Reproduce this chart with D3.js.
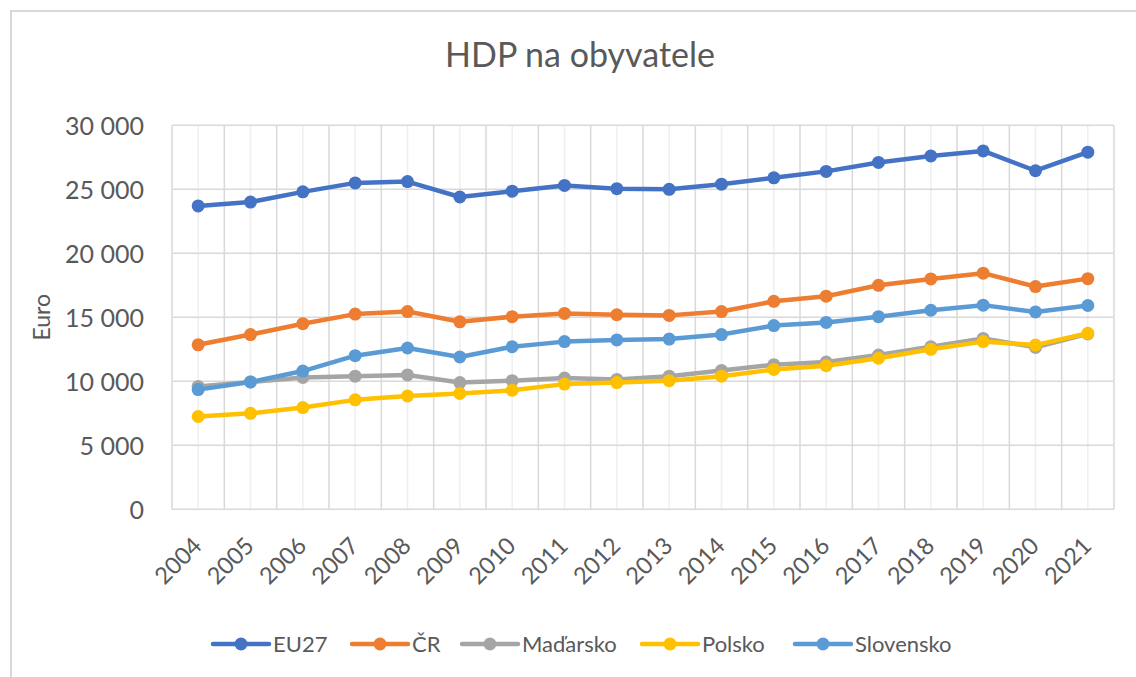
<!DOCTYPE html>
<html>
<head>
<meta charset="utf-8">
<script src="https://cdn.jsdelivr.net/npm/d3@7"></script>
<style>
  body { margin: 0; background: #fff; }
  text { font-family: Lato, "Open Sans", sans-serif; fill: #595959; }
</style>
</head>
<body>
<script>
const years = ["2004","2005","2006","2007","2008","2009","2010","2011","2012","2013","2014","2015","2016","2017","2018","2019","2020","2021"];
const eu27 = [23700,24000,24800,25500,25600,24400,24850,25300,25050,25000,25400,25900,26400,27100,27600,28000,26450,27900];
const cr = [12850,13650,14500,15250,15450,14650,15050,15300,15200,15150,15450,16250,16650,17500,18000,18450,17400,18020];
const madarsko = [9600,9950,10300,10400,10500,9900,10050,10250,10150,10400,10850,11300,11500,12050,12700,13350,12650,13700];
const polsko = [7250,7500,7950,8550,8850,9050,9300,9780,9900,10050,10400,10930,11220,11800,12500,13100,12830,13750];
const slovensko = [9350,9950,10800,12000,12600,11900,12700,13100,13230,13300,13650,14350,14600,15050,15550,15950,15420,15920];

const seriesNames = ["EU27","ČR","Maďarsko","Polsko","Slovensko"];
const seriesValues = [eu27, cr, madarsko, polsko, slovensko];
const colors = ["#4472C4","#ED7D31","#A5A5A5","#FFC000","#5B9BD5"];
const yTicks = [0,5000,10000,15000,20000,25000,30000];

const width = 1136, height = 677;
const svg = d3.select("body").append("svg")
  .attr("width", width)
  .attr("height", height);

// chart border
svg.append("rect")
  .attr("x", 11).attr("y", 11)
  .attr("width", width).attr("height", height)
  .attr("fill", "none")
  .attr("stroke", "#d9d9d9")
  .attr("stroke-width", 2);

const plotLeft = 172, plotRight = 1114, plotTop = 125.3, plotBottom = 509.3;

const x = d3.scaleBand().domain(years).range([plotLeft, plotRight]);
const y = d3.scaleLinear().domain([0, 30000]).range([plotBottom, plotTop]);

// gridlines
const grid = svg.append("g");
grid.selectAll(".minor")
  .data(years)
  .enter()
  .append("line")
  .attr("x1", d => x(d) + x.bandwidth() / 2)
  .attr("x2", d => x(d) + x.bandwidth() / 2)
  .attr("y1", plotTop).attr("y2", plotBottom)
  .attr("stroke", "#efefef")
  .attr("stroke-width", 1.5);
grid.selectAll(".major")
  .data(years.concat(["end"]))
  .enter()
  .append("line")
  .attr("x1", d => d === "end" ? plotRight : x(d))
  .attr("x2", d => d === "end" ? plotRight : x(d))
  .attr("y1", plotTop).attr("y2", plotBottom)
  .attr("stroke", "#d9d9d9")
  .attr("stroke-width", 1.5);
grid.selectAll(".hline")
  .data(yTicks)
  .enter()
  .append("line")
  .attr("x1", plotLeft).attr("x2", plotRight)
  .attr("y1", d => y(d)).attr("y2", d => y(d))
  .attr("stroke", "#d9d9d9")
  .attr("stroke-width", 1.5);

// y axis
const fmt = d => d3.format(",")(d).replace(/,/g, " ");
const yAxis = svg.append("g")
  .attr("transform", `translate(${plotLeft},0)`)
  .call(d3.axisLeft(y).tickValues(yTicks).tickFormat(fmt).tickSize(0).tickPadding(28));
yAxis.select(".domain").remove();
yAxis.selectAll("text")
  .style("font-size", "25px")
  .attr("fill", "#595959")
  .attr("dy", "0.35em");

// x axis
const xAxis = svg.append("g")
  .attr("transform", `translate(0,${plotBottom})`)
  .call(d3.axisBottom(x).tickSize(0).tickPadding(0));
xAxis.select(".domain").remove();
xAxis.selectAll("text")
  .style("font-size", "23.5px")
  .attr("fill", "#595959")
  .attr("text-anchor", "end")
  .attr("dy", null)
  .attr("y", null)
  .attr("transform", "translate(5,38) rotate(-45)");

// axis title
svg.append("text")
  .attr("transform", `translate(50,${(plotTop + plotBottom) / 2}) rotate(-90)`)
  .attr("text-anchor", "middle")
  .style("font-size", "23px")
  .text("Euro");

// title
svg.append("text")
  .attr("x", 580).attr("y", 67)
  .attr("text-anchor", "middle")
  .style("font-size", "34px")
  .text("HDP na obyvatele");

// lines
const line = d3.line()
  .x((d, i) => x(years[i]) + x.bandwidth() / 2)
  .y(d => y(d));

seriesValues.forEach((vals, k) => {
  const g = svg.append("g");
  g.append("path")
    .datum(vals)
    .attr("d", line)
    .attr("fill", "none")
    .attr("stroke", colors[k])
    .attr("stroke-width", 4.5)
    .attr("stroke-linejoin", "round")
    .attr("stroke-linecap", "round");
  g.selectAll("circle")
    .data(vals)
    .enter()
    .append("circle")
    .attr("cx", (d, i) => x(years[i]) + x.bandwidth() / 2)
    .attr("cy", d => y(d))
    .attr("r", 6.5)
    .attr("fill", colors[k]);
});

// legend
const legendX = [213, 352, 462, 642, 795];
const legend = svg.append("g").attr("transform", "translate(0,644)");
seriesNames.forEach((name, k) => {
  const item = legend.append("g").attr("transform", `translate(${legendX[k]},0)`);
  item.append("line")
    .attr("x1", 0).attr("x2", 56)
    .attr("stroke", colors[k])
    .attr("stroke-width", 4.5)
    .attr("stroke-linecap", "round");
  item.append("circle")
    .attr("cx", 28).attr("r", 6.5)
    .attr("fill", colors[k]);
  item.append("text")
    .attr("x", 60).attr("dy", "0.35em")
    .style("font-size", "22px")
    .text(name);
});
</script>
</body>
</html>
